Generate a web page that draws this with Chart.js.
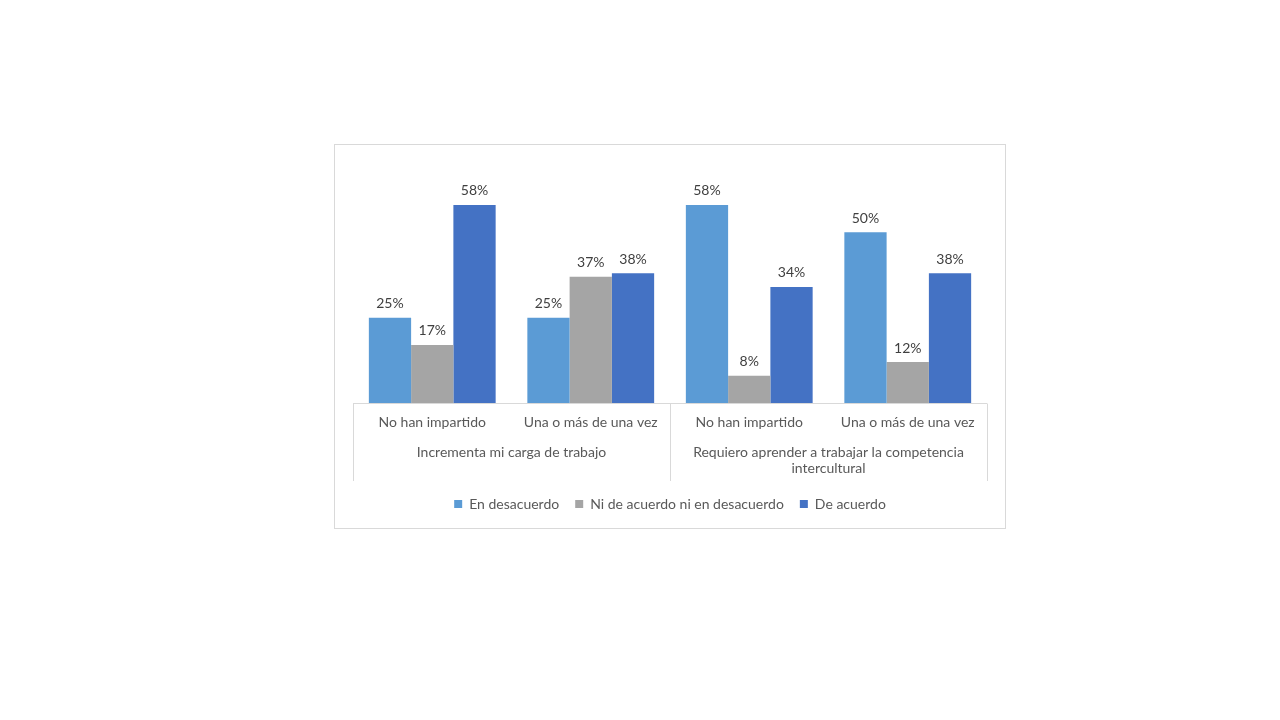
<!DOCTYPE html>
<html>
<head>
<meta charset="utf-8">
<script src="https://cdn.jsdelivr.net/npm/chart.js@4/dist/chart.umd.min.js"></script>
<style>
  body { margin: 0; background: #fff; width: 1280px; height: 720px; position: relative; overflow: hidden; }
  #marco { position: absolute; left: 334px; top: 144px; width: 672px; height: 385px; box-sizing: border-box; border: 1px solid #d9d9d9; }
  #wrap { position: absolute; left: 335px; top: 145px; width: 670px; height: 376px; }
</style>
</head>
<body>
<div id="marco"></div>
<div id="wrap"><canvas id="grafico" width="670" height="376"></canvas></div>
<script>
const subCategorias = ["No han impartido", "Una o más de una vez", "No han impartido", "Una o más de una vez"];
const grupos = ["Incrementa mi carga de trabajo", ["Requiero aprender a trabajar la competencia", "intercultural"]];
const series = ["En desacuerdo", "Ni de acuerdo ni en desacuerdo", "De acuerdo"];
const enDesacuerdo = [25, 25, 58, 50];
const niDeAcuerdo = [17, 37, 8, 12];
const deAcuerdo = [58, 38, 34, 38];
const colores = ["#5B9BD5", "#A5A5A5", "#4472C4"];

Chart.defaults.font.family = "Lato";
Chart.defaults.font.size = 14;
Chart.defaults.color = "#595959";

// etiquetas de valor encima de cada barra
const etiquetas = {
    id: "etiquetas",
    afterDatasetsDraw(chart) {
        const ctx = chart.ctx;
        ctx.save();
        ctx.font = "14px Lato";
        ctx.fillStyle = "#404040";
        ctx.textAlign = "center";
        ctx.textBaseline = "bottom";
        chart.data.datasets.forEach((ds, i) => {
            chart.getDatasetMeta(i).data.forEach((bar, j) => {
                ctx.fillText(ds.data[j] + "%", bar.x, bar.y - 7);
            });
        });
        ctx.restore();
    }
};

// eje horizontal y separadores de grupos
const separadores = {
    id: "separadores",
    afterDraw(chart) {
        const x = chart.scales.x;
        const x2 = chart.scales.x2;
        const ctx = chart.ctx;
        const yTop = Math.round(x.top) + 0.5;
        const medio = (x.getPixelForValue(1) + x.getPixelForValue(2)) / 2;
        ctx.save();
        ctx.strokeStyle = "#d9d9d9";
        ctx.lineWidth = 1;
        ctx.beginPath();
        ctx.moveTo(x.left, yTop);
        ctx.lineTo(x.right, yTop);
        [x.left, medio, x.right].forEach(px => {
            const p = Math.round(px) + 0.5;
            ctx.moveTo(p, yTop);
            ctx.lineTo(p, x2.bottom);
        });
        ctx.stroke();
        ctx.restore();
    }
};

new Chart(document.getElementById("grafico"), {
    type: "bar",
    data: {
        labels: subCategorias,
        datasets: [
            { label: series[0], data: enDesacuerdo, backgroundColor: colores[0] },
            { label: series[1], data: niDeAcuerdo, backgroundColor: colores[1] },
            { label: series[2], data: deAcuerdo, backgroundColor: colores[2] }
        ]
    },
    options: {
        responsive: false,
        animation: false,
        categoryPercentage: 0.8,
        barPercentage: 1,
        layout: { padding: { top: 19, left: 18, right: 18, bottom: 0 } },
        scales: {
            y: { display: false, min: 0, max: 70 },
            x: {
                weight: 0,
                grid: { display: false, drawTicks: false },
                border: { display: false },
                ticks: { padding: 11, maxRotation: 0, autoSkip: false, color: "#595959" },
                afterFit: s => { s.height = 35; }
            },
            x2: {
                type: "category",
                position: "bottom",
                weight: 1,
                labels: grupos,
                offset: true,
                grid: { display: false, drawTicks: false },
                border: { display: false },
                ticks: { padding: 6, maxRotation: 0, autoSkip: false, color: "#595959", font: { lineHeight: 1.15 } },
                afterFit: s => { s.height = 43; }
            }
        },
        plugins: {
            legend: {
                position: "bottom",
                labels: { boxWidth: 8, boxHeight: 8, padding: 16, color: "#595959" }
            },
            tooltip: { enabled: false }
        }
    },
    plugins: [etiquetas, separadores]
});
</script>
</body>
</html>
